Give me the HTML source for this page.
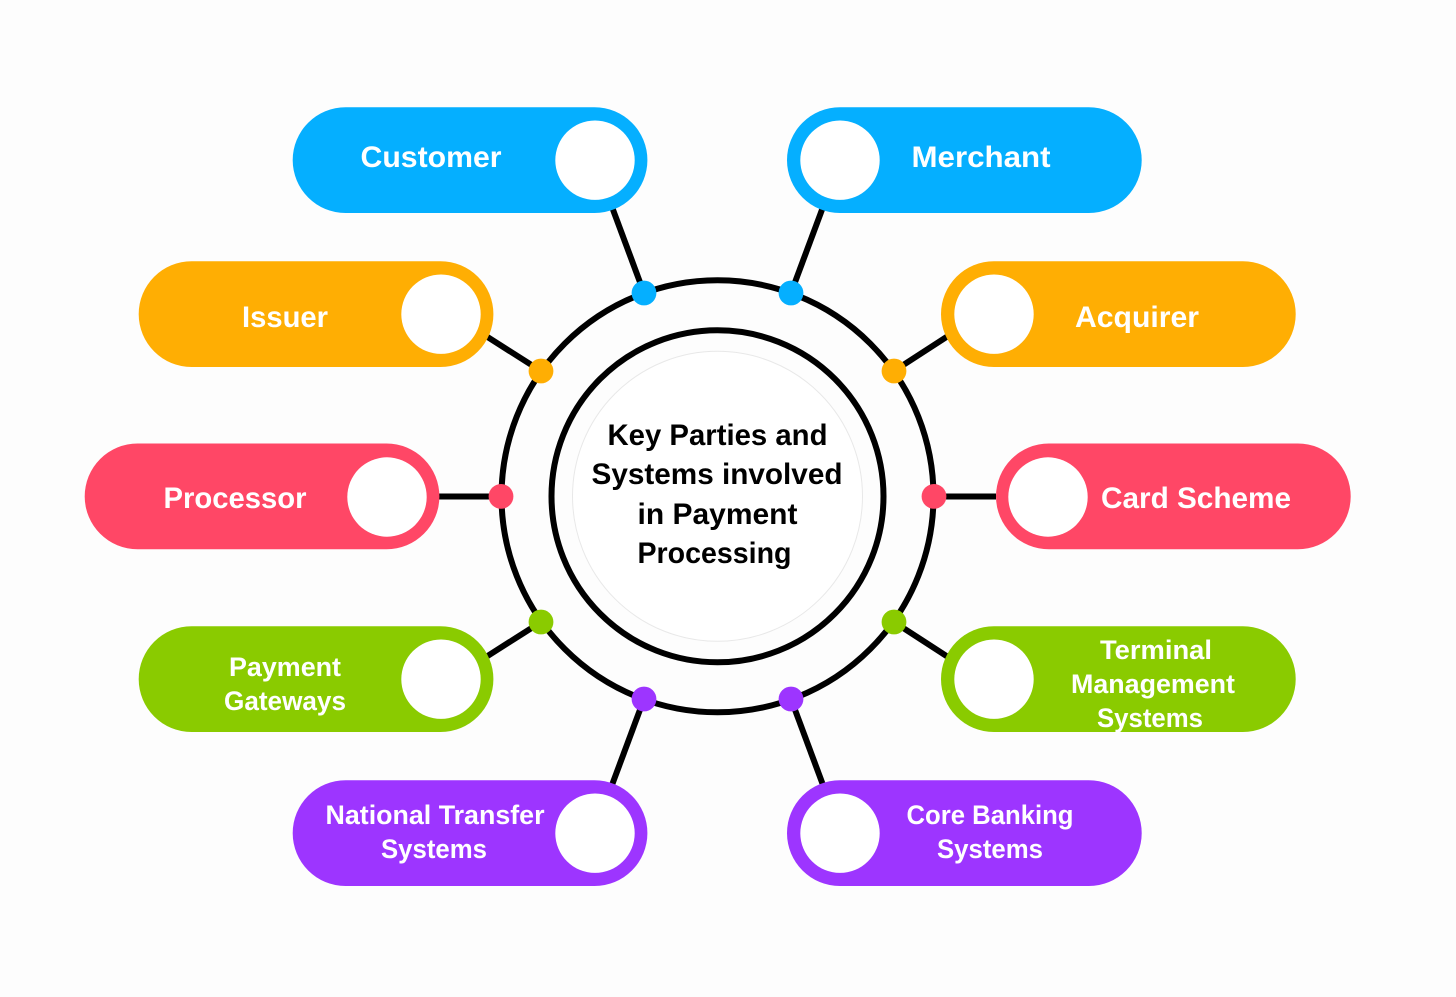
<!DOCTYPE html>
<html><head><meta charset="utf-8"><style>
html,body{margin:0;padding:0;background:#fdfdfd}
svg{display:block}
text{font-family:"Liberation Sans",Arial,sans-serif;font-weight:700;text-anchor:middle}
.w{fill:#fff;font-size:30px}
.s{fill:#fff;font-size:27px}
.c{fill:#000;font-size:29.5px}
</style></head><body>
<svg width="1456" height="997" viewBox="0 0 1456 997" xmlns="http://www.w3.org/2000/svg">
<rect width="1456" height="997" fill="#fdfdfd"/>
<g stroke="#000" stroke-width="6" fill="none">
<line x1="612" y1="207" x2="644" y2="293"/>
<line x1="823" y1="207" x2="791" y2="293"/>
<line x1="486" y1="336" x2="541" y2="371"/>
<line x1="948" y1="336" x2="894" y2="371"/>
<line x1="438" y1="496.5" x2="501" y2="496.5"/>
<line x1="996" y1="496.5" x2="934" y2="496.5"/>
<line x1="486" y1="657" x2="541" y2="622"/>
<line x1="948" y1="657" x2="894" y2="622"/>
<line x1="612" y1="785" x2="644" y2="699"/>
<line x1="823" y1="785" x2="791" y2="699"/>
<circle cx="717.5" cy="496.3" r="216"/>
<circle cx="717.5" cy="496.3" r="166"/>
</g>
<circle cx="717.5" cy="496.3" r="145" fill="#fff" stroke="#e8e8e8" stroke-width="1"/>
<g>
<rect x="292.7" y="107.2" width="354.7" height="105.8" rx="52.9" fill="#05afff"/>
<rect x="787" y="107.2" width="354.7" height="105.8" rx="52.9" fill="#05afff"/>
<rect x="138.7" y="261.2" width="354.7" height="105.8" rx="52.9" fill="#ffae03"/>
<rect x="941" y="261.2" width="354.7" height="105.8" rx="52.9" fill="#ffae03"/>
<rect x="84.7" y="443.5" width="354.7" height="105.8" rx="52.9" fill="#ff4766"/>
<rect x="996" y="443.5" width="354.7" height="105.8" rx="52.9" fill="#ff4766"/>
<rect x="138.7" y="626.2" width="354.7" height="105.8" rx="52.9" fill="#8acb00"/>
<rect x="941" y="626.2" width="354.7" height="105.8" rx="52.9" fill="#8acb00"/>
<rect x="292.7" y="780.2" width="354.7" height="105.8" rx="52.9" fill="#9d35ff"/>
<rect x="787" y="780.2" width="354.7" height="105.8" rx="52.9" fill="#9d35ff"/>
</g>
<g fill="#fff">
<circle cx="595" cy="160.2" r="39.7"/><circle cx="840" cy="160.2" r="39.7"/>
<circle cx="441" cy="314.2" r="39.7"/><circle cx="994" cy="314.2" r="39.7"/>
<circle cx="387" cy="497" r="39.7"/><circle cx="1048" cy="497" r="39.7"/>
<circle cx="441" cy="679.2" r="39.7"/><circle cx="994" cy="679.2" r="39.7"/>
<circle cx="595" cy="833.2" r="39.7"/><circle cx="840" cy="833.2" r="39.7"/>
</g>
<g>
<circle cx="644" cy="293" r="12.4" fill="#05afff"/><circle cx="791" cy="293" r="12.4" fill="#05afff"/>
<circle cx="541" cy="371" r="12.4" fill="#ffae03"/><circle cx="894" cy="371" r="12.4" fill="#ffae03"/>
<circle cx="501" cy="496.4" r="12.4" fill="#ff4766"/><circle cx="934" cy="496.4" r="12.4" fill="#ff4766"/>
<circle cx="541" cy="622" r="12.4" fill="#8acb00"/><circle cx="894" cy="622" r="12.4" fill="#8acb00"/>
<circle cx="644" cy="699" r="12.4" fill="#9d35ff"/><circle cx="791" cy="699" r="12.4" fill="#9d35ff"/>
</g>
<text class="w" x="431" y="167" textLength="141" lengthAdjust="spacingAndGlyphs">Customer</text>
<text class="w" x="981" y="167" textLength="139" lengthAdjust="spacingAndGlyphs">Merchant</text>
<text class="w" x="285" y="327" textLength="86" lengthAdjust="spacingAndGlyphs">Issuer</text>
<text class="w" x="1137" y="327" textLength="124" lengthAdjust="spacingAndGlyphs">Acquirer</text>
<text class="w" x="235" y="508" textLength="143" lengthAdjust="spacingAndGlyphs">Processor</text>
<text class="w" x="1196" y="508" textLength="190" lengthAdjust="spacingAndGlyphs">Card Scheme</text>
<text class="s" x="285" y="676" textLength="112" lengthAdjust="spacingAndGlyphs">Payment</text>
<text class="s" x="285" y="710" textLength="122" lengthAdjust="spacingAndGlyphs">Gateways</text>
<text class="s" x="1156" y="659" textLength="112" lengthAdjust="spacingAndGlyphs">Terminal</text>
<text class="s" x="1153" y="693" textLength="164" lengthAdjust="spacingAndGlyphs">Management</text>
<text class="s" x="1150" y="727" textLength="106" lengthAdjust="spacingAndGlyphs">Systems</text>
<text class="s" x="435" y="824" textLength="219" lengthAdjust="spacingAndGlyphs">National Transfer</text>
<text class="s" x="434" y="858" textLength="106" lengthAdjust="spacingAndGlyphs">Systems</text>
<text class="s" x="990" y="824" textLength="167" lengthAdjust="spacingAndGlyphs">Core Banking</text>
<text class="s" x="990" y="858" textLength="106" lengthAdjust="spacingAndGlyphs">Systems</text>
<text class="c" x="717.5" y="445" textLength="220" lengthAdjust="spacingAndGlyphs">Key Parties and</text>
<text class="c" x="717" y="484" textLength="251" lengthAdjust="spacingAndGlyphs">Systems involved</text>
<text class="c" x="717.5" y="524" textLength="160" lengthAdjust="spacingAndGlyphs">in Payment</text>
<text class="c" x="714.5" y="563" textLength="154" lengthAdjust="spacingAndGlyphs">Processing</text>
</svg>
</body></html>
